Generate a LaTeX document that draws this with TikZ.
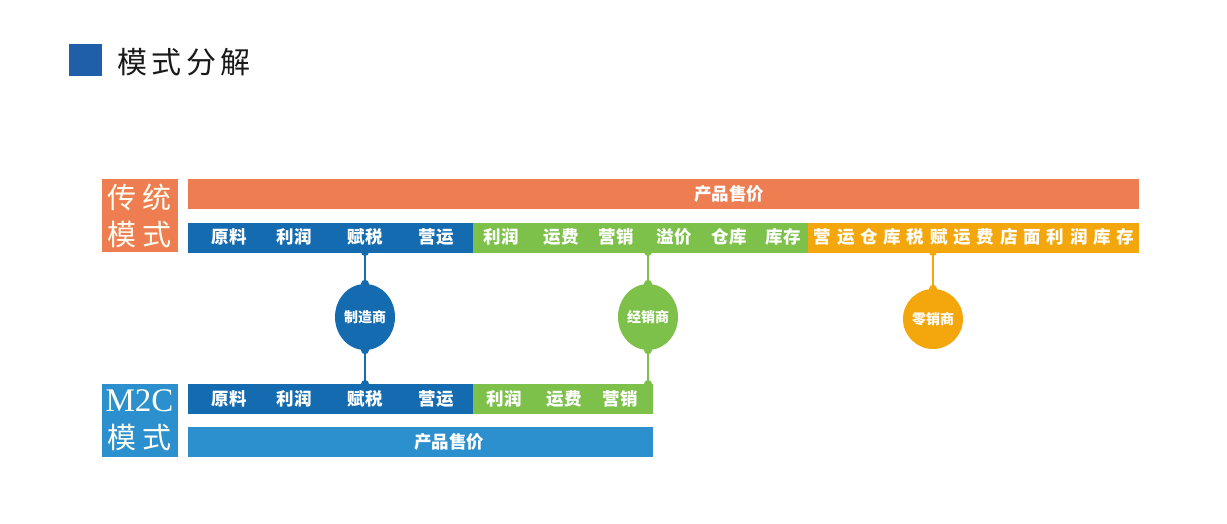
\documentclass[tikz,border=0pt]{standalone}
\usepackage{fontspec}
\setmainfont{Liberation Serif}
\newfontfamily\cjk{Noto Sans CJK SC}
\usetikzlibrary{shapes.geometric}
\definecolor{cOrange}{HTML}{EE7E52}
\definecolor{cBlue}{HTML}{146BB0}
\definecolor{cGreen}{HTML}{7DC14B}
\definecolor{cYellow}{HTML}{F4A70C}
\definecolor{cLight}{HTML}{2C90CF}
\definecolor{cTitle}{HTML}{1F5EA8}
\tikzset{
  bar/.style={rectangle, inner sep=0pt, draw=none},
  lbl/.style={rectangle, inner sep=0pt, draw=none},
  wtxt/.style={text=white, inner sep=0pt, font=\cjk\bfseries\fontsize{17.5}{19}\selectfont},
  ltxt/.style={text=white!95!yellow, inner sep=0pt, font=\cjk\fontsize{29}{31}\selectfont},
  hub/.style={ellipse, minimum width=60pt, minimum height=66pt, inner sep=0pt, text=white, font=\cjk\bfseries\fontsize{14}{16}\selectfont},
  conn/.style={line width=1.6pt},
  nub/.style={circle, inner sep=0pt, minimum size=8pt}
}
\begin{document}
\begin{tikzpicture}[x=1pt,y=-1pt]
\useasboundingbox (0,0) rectangle (1227,523);
% title
\node[lbl, fill=cTitle, minimum width=33pt, minimum height=32pt] (tsq) at (85.5,60) {};
\node[anchor=west, inner sep=0pt, text=black!90, font=\cjk\fontsize{30}{32}\selectfont] (title) at (117,62) {模\hspace{4.5pt}式\hspace{4.5pt}分\hspace{4.5pt}解};

% traditional label
\node[lbl, fill=cOrange, minimum width=76pt, minimum height=73pt] (tlab) at (139.5,215.5) {};
\node[ltxt] (t1) at (139.5,197) {传\hspace{6pt}统};
\node[ltxt] (t2) at (139.5,235) {模\hspace{6pt}式};

% traditional bars
\node[bar, fill=cOrange, minimum width=951pt, minimum height=30pt] (price1) at (663.5,194) {};
\node[wtxt] (price1t) at (729,194) {产品售价};
\node[bar, fill=cBlue, minimum width=285pt, minimum height=30pt] (b1) at (330.5,237.5) {};
\node[bar, fill=cGreen, minimum width=335pt, minimum height=30pt] (g1) at (640.5,237.5) {};
\node[bar, fill=cYellow, minimum width=331pt, minimum height=30pt] (y1) at (973.5,237.5) {};

\node[wtxt] (b1a) at (229,237) {原料};
\node[wtxt] (b1b) at (294,237) {利润};
\node[wtxt] (b1c) at (365,237) {赋税};
\node[wtxt] (b1d) at (436,237) {营运};
\node[wtxt] (g1a) at (501,237) {利润};
\node[wtxt] (g1b) at (561,237) {运费};
\node[wtxt] (g1c) at (616,237) {营销};
\node[wtxt] (g1d) at (674,237) {溢价};
\node[wtxt] (g1e) at (729,237) {仓库};
\node[wtxt] (g1f) at (783,237) {库存};
\foreach \c [count=\i from 0] in {营,运,仓,库,税,赋,运,费,店,面,利,润,库,存}
  \node[wtxt] (y1c\i) at (822.5+23.3*\i,237) {\c};

% hubs
\node[hub, fill=cBlue] (mfg) at (365,317) {制造商};
\node[hub, fill=cGreen] (dist) at (648,317) {经销商};
\node[hub, fill=cYellow, minimum height=60pt] (ret) at (933,319) {零销商};

\coordinate (mfgUp) at (365,252);
\coordinate (mfgDn) at (365,384);
\coordinate (distUp) at (648,252);
\coordinate (distDn) at (648,384);
\coordinate (retUp) at (933,252);

\draw[conn, cBlue] (mfgUp) -- (mfg.north);
\draw[conn, cBlue] (mfg.south) -- (mfgDn);
\draw[conn, cGreen] (distUp) -- (dist.north);
\draw[conn, cGreen] (dist.south) -- (distDn);
\draw[conn, cYellow] (retUp) -- (ret.north);

\foreach \p/\c in {mfgUp/cBlue, mfgDn/cBlue, mfg.north/cBlue, mfg.south/cBlue,
  distUp/cGreen, distDn/cGreen, dist.north/cGreen, dist.south/cGreen,
  retUp/cYellow, ret.north/cYellow}
  \fill[\c] (\p) circle (4pt);

% M2C label
\node[lbl, fill=cLight, minimum width=76pt, minimum height=73pt] (mlab) at (139.5,420.5) {};
\node[inner sep=0pt, text=white!95!yellow, font=\fontsize{33}{35}\selectfont] (m1) at (139.5,401) {M2C};
\node[ltxt] (m2) at (139.5,438) {模\hspace{6pt}式};

% M2C bars
\node[bar, fill=cBlue, minimum width=285pt, minimum height=30pt] (b2) at (330.5,399) {};
\node[bar, fill=cGreen, minimum width=180pt, minimum height=30pt] (g2) at (563,399) {};
\node[bar, fill=cLight, minimum width=465pt, minimum height=30pt] (price2) at (420.5,442) {};
\node[wtxt] (price2t) at (449,442) {产品售价};

\node[wtxt] (b2a) at (229,399) {原料};
\node[wtxt] (b2b) at (294,399) {利润};
\node[wtxt] (b2c) at (365,399) {赋税};
\node[wtxt] (b2d) at (436,399) {营运};
\node[wtxt] (g2a) at (504,399) {利润};
\node[wtxt] (g2b) at (564,399) {运费};
\node[wtxt] (g2c) at (620,399) {营销};
\end{tikzpicture}
\end{document}
